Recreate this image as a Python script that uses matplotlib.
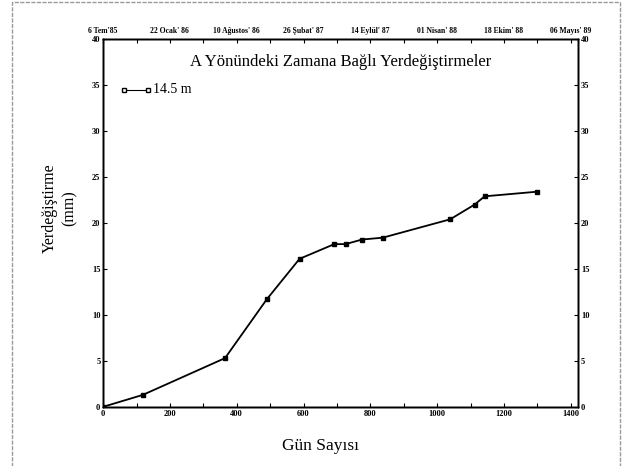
import matplotlib
matplotlib.use("Agg")
import matplotlib.pyplot as plt
from matplotlib.patches import Rectangle

# days since first reading vs displacement (mm), 14.5 m depth
gun = [0, 119, 365, 490, 588, 692, 726, 775, 837, 1039, 1112, 1142, 1298]
yerdegistirme = [0.0, 1.3, 5.3, 11.7, 16.1, 17.7, 17.7, 18.2, 18.4, 20.4, 22.0, 22.9, 23.4]

alt_ticks = [0, 200, 400, 600, 800, 1000, 1200, 1400]
tarihler = ["6 Tem'85", "22 Ocak' 86", "10 Ağustos' 86", "26 Şubat' 87",
            "14 Eylül' 87", "01 Nisan' 88", "18 Ekim' 88", "06 Mayıs' 89"]
y_ticks = [0, 5, 10, 15, 20, 25, 30, 35, 40]

plt.rcParams['font.family'] = ['Liberation Serif', 'DejaVu Serif']

fig = plt.figure(figsize=(6.25, 4.66), dpi=100)
ax = fig.add_axes([0.165, 0.127, 0.760, 0.789])

# scanned page frame
fig.patches.append(Rectangle((0.019, -0.01), 0.973, 1.005, transform=fig.transFigure,
                             fill=False, edgecolor='#9a9a9a', lw=1.0, ls=(0, (3, 1))))

ax.plot(gun, yerdegistirme, color='black', lw=1.3, marker='s', ms=3,
        mfc='black', mec='black')

ax.set_xlim(0, 1422)
ax.set_ylim(0, 40)
ax.set_xticks(alt_ticks)
ax.set_xticks(range(100, 1400, 200), minor=True)
ax.set_yticks(y_ticks)
ax.tick_params(axis='both', which='both', direction='in', labelsize=6, pad=2,
               length=3, width=0.8)
for lbl in ax.get_xticklabels() + ax.get_yticklabels():
    lbl.set_fontweight('bold')

ax.set_xlabel("Gün Sayısı", fontsize=12.5, labelpad=10)
ax.xaxis.set_label_coords(0.457, -0.085)
ax.set_ylabel("Yerdeğiştirme\n(mm)", fontsize=11.5, linespacing=1.3)
ax.yaxis.set_label_coords(-0.054, 0.54)

ay = ax.twinx()
ay.set_ylim(0, 40)
ay.set_yticks(y_ticks)
ay.tick_params(direction='in', labelsize=6, pad=2, length=3, width=0.8)
for lbl in ay.get_yticklabels():
    lbl.set_fontweight('bold')

at = ax.twiny()
at.set_xlim(ax.get_xlim())
at.set_xticks(alt_ticks)
at.set_xticklabels(tarihler)
at.set_xticks(range(100, 1400, 200), minor=True)
at.tick_params(axis='x', which='both', direction='in', labelsize=5.5, pad=3,
               length=3, width=0.8)
for lbl in at.get_xticklabels():
    lbl.set_fontweight('bold')

for a in (ax, ay, at):
    for s in a.spines.values():
        s.set_linewidth(1.0)

ax.text(0.5, 0.937, "A Yönündeki Zamana Bağlı Yerdeğiştirmeler", transform=ax.transAxes,
        ha='center', va='center', fontsize=12)

# legend drawn by hand like the scanned original
ax.plot([0.043, 0.095], [0.862, 0.862], transform=ax.transAxes, color='black', lw=0.8,
        marker='s', ms=3, mfc='white', mec='black')
ax.text(0.105, 0.862, "14.5 m", transform=ax.transAxes, ha='left', va='center',
        fontsize=10)

fig.savefig("out.png", dpi=100)
